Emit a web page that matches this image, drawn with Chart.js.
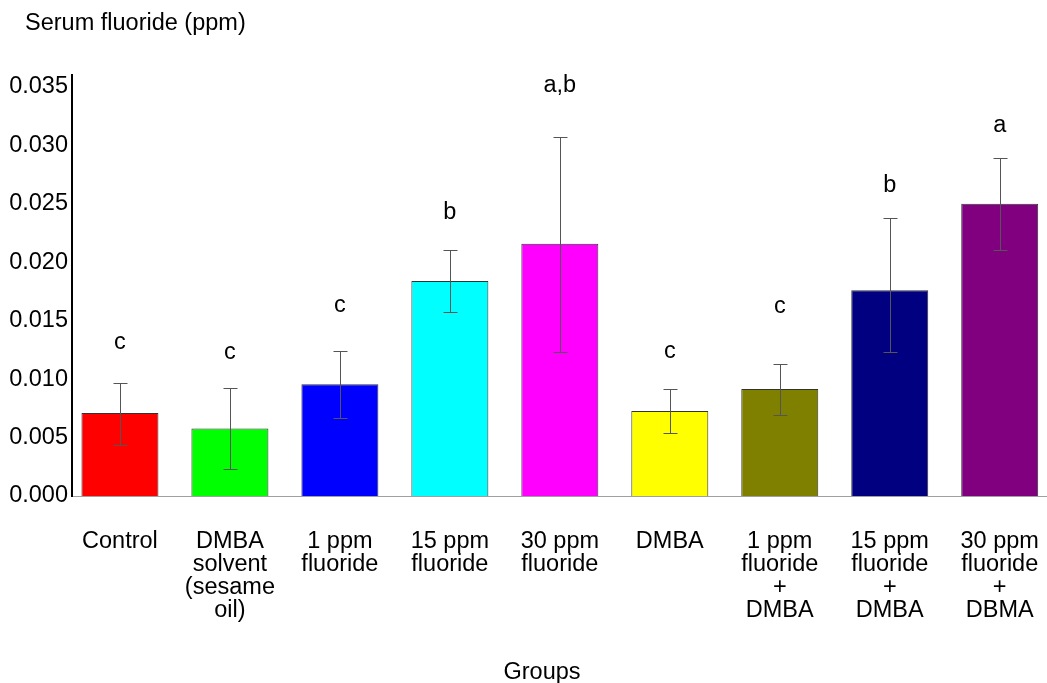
<!DOCTYPE html>
<html>
<head>
<meta charset="utf-8">
<title>Serum fluoride</title>
<script src="https://cdn.jsdelivr.net/npm/chart.js@4.4.1/dist/chart.umd.min.js"></script>
<style>
  html, body { margin: 0; padding: 0; background: #fff; }
  #wrap { width: 1047px; height: 683px; }
</style>
</head>
<body>
<div id="wrap"><canvas id="grafico"></canvas></div>
<script>
const groups = [
  ["Control"],
  ["DMBA", "solvent", "(sesame", "oil)"],
  ["1 ppm", "fluoride"],
  ["15 ppm", "fluoride"],
  ["30 ppm", "fluoride"],
  ["DMBA"],
  ["1 ppm", "fluoride", "+", "DMBA"],
  ["15 ppm", "fluoride", "+", "DMBA"],
  ["30 ppm", "fluoride", "+", "DBMA"]
];
const means = [0.00709, 0.00578, 0.00956, 0.01838, 0.02157, 0.00726, 0.00916, 0.01759, 0.02499];
const errHi = [0.00967, 0.00922, 0.01238, 0.0210, 0.03073, 0.00916, 0.01133, 0.02376, 0.02891];
const errLo = [0.00435, 0.0023, 0.00663, 0.01571, 0.01232, 0.00535, 0.00694, 0.01229, 0.0210];
const letters = ["c", "c", "c", "b", "a,b", "c", "c", "b", "a"];
const letterY = [0.01315, 0.0123, 0.0163, 0.0242, 0.0351, 0.01232, 0.01622, 0.02655, 0.03167];
const colors = ["#ff0000", "#00ff00", "#0000ff", "#00ffff", "#ff00ff", "#ffff00", "#808000", "#000080", "#800080"];
const yTicks = [0, 0.005, 0.010, 0.015, 0.020, 0.025, 0.030, 0.035];

const family = '"Liberation Sans", Arial, sans-serif';
const size = 23.5;

// error bars, letters and the two titles
const extras = {
  id: "extras",
  afterDatasetsDraw(c) {
    const { ctx, scales: { x, y } } = c;
    ctx.save();
    ctx.strokeStyle = "#555";
    ctx.lineWidth = 1;
    means.forEach((m, i) => {
      const px = Math.round(x.getPixelForValue(i)) + 0.5;
      const top = Math.round(y.getPixelForValue(errHi[i])) + 0.5;
      const bot = Math.round(y.getPixelForValue(errLo[i])) + 0.5;
      ctx.beginPath();
      ctx.moveTo(px, top); ctx.lineTo(px, bot);
      ctx.moveTo(px - 7, top); ctx.lineTo(px + 7, top);
      ctx.moveTo(px - 7, bot); ctx.lineTo(px + 7, bot);
      ctx.stroke();
    });
    ctx.fillStyle = "#000";
    ctx.font = size + "px " + family;
    ctx.textAlign = "center";
    ctx.textBaseline = "middle";
    letters.forEach((l, i) => ctx.fillText(l, x.getPixelForValue(i), y.getPixelForValue(letterY[i])));
    ctx.textBaseline = "alphabetic";
    ctx.textAlign = "left";
    ctx.fillText("Serum fluoride (ppm)", 25, 30);
    ctx.textAlign = "center";
    ctx.fillText("Groups", 542, 679);
    ctx.restore();
  }
};

new Chart(document.getElementById("grafico"), {
  type: "bar",
  data: {
    datasets: [{
      data: means.map((v, i) => ({ x: i, y: v })),
      backgroundColor: colors,
      borderColor: "#333",
      borderWidth: 1,
      barPercentage: 0.7,
      categoryPercentage: 1
    }]
  },
  options: {
    responsive: true,
    maintainAspectRatio: false,
    animation: false,
    layout: { padding: { top: 75, left: 0, right: 0, bottom: 0 } },
    plugins: { legend: { display: false }, tooltip: { enabled: false } },
    scales: {
      x: {
        type: "linear",
        min: -0.436,
        max: 8.43,
        offset: false,
        grid: { display: false, drawTicks: false },
        border: { color: "#a0a0a0", width: 1 },
        afterBuildTicks: s => { s.ticks = groups.map((g, i) => ({ value: i })); },
        afterFit: s => { s.height = 187; s.paddingLeft = 0; s.paddingRight = 0; },
        ticks: {
          autoSkip: false,
          maxRotation: 0,
          padding: 34,
          color: "#000",
          font: { size, family, lineHeight: 0.98 },
          callback: v => groups[v]
        }
      },
      y: {
        min: 0,
        max: 0.036,
        grid: { display: false, drawTicks: false },
        border: { color: "#000", width: 2 },
        afterBuildTicks: s => { s.ticks = yTicks.map(v => ({ value: v })); },
        afterFit: s => { s.width = 72; s.paddingTop = 0; s.paddingBottom = 0; },
        ticks: {
          padding: 4,
          color: "#000",
          font: { size, family },
          callback: v => v.toFixed(3)
        }
      }
    }
  },
  plugins: [extras]
});
</script>
</body>
</html>
